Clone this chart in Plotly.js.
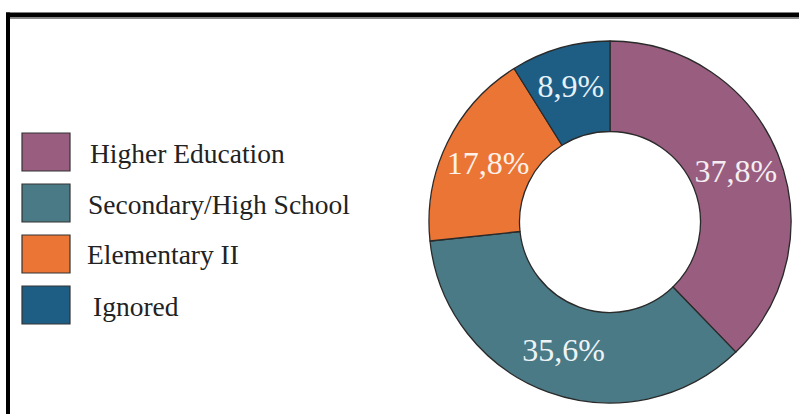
<!DOCTYPE html>
<html>
<head>
<meta charset="utf-8">
<script src="https://cdn.plot.ly/plotly-3.0.1.min.js"></script>
<style>html,body{margin:0;padding:0;background:#fff;}#chart{width:799px;height:414px;}</style>
</head>
<body>
<div id="chart"></div>
<script>
const categories = ["Higher Education", "Secondary/High School", "Elementary II", "Ignored"];
const shares = [37.8, 35.6, 17.8, 8.9];
const colors = ["#995e7f", "#4a7a86", "#eb7535", "#1f5e84"];
const textColors = ["#f4eef2", "#eef4f6", "#fdf1ea", "#e6f2fa"];

const W = 799, H = 414;
const pieText = shares.map(v => v.toFixed(1).replace('.', ',') + '%');
const SERIF = '"Liberation Serif", "Times New Roman", serif';
const legendTextX = [88, 86, 85, 91];

const cx = 610, cy = 222, R = 181;
const trace = {
  type: 'pie',
  labels: categories,
  values: shares,
  text: pieText,
  textinfo: 'text',
  textposition: 'inside',
  insidetextorientation: 'horizontal',
  sort: false,
  direction: 'clockwise',
  rotation: 0,
  hole: 0.5,
  marker: {colors: colors, line: {color: '#2a2a2a', width: 1.3}},
  textfont: {family: SERIF, size: 32, color: textColors},
  insidetextfont: {family: SERIF, size: 32, color: textColors},
  showlegend: false,
  domain: {x: [(cx - R) / W, (cx + R) / W], y: [(H - cy - R) / H, (H - cy + R) / H]},
  hoverinfo: 'label+text'
};

const shapes = [
  {type: 'rect', xref: 'paper', yref: 'paper', x0: 6 / W, x1: 1, y0: 1 - 17.5 / H, y1: 1 - 12.5 / H, fillcolor: '#000', line: {width: 0}},
  {type: 'rect', xref: 'paper', yref: 'paper', x0: 6 / W, x1: 1, y0: 1 - 19 / H, y1: 1 - 17.5 / H, fillcolor: '#888', line: {width: 0}},
  {type: 'rect', xref: 'paper', yref: 'paper', x0: 6 / W, x1: 10 / W, y0: 0, y1: 1 - 12.5 / H, fillcolor: '#000', line: {width: 0}}
];
const annotations = [];
categories.forEach((c, i) => {
  const yc = 152 + i * 51;
  shapes.push({type: 'rect', xref: 'paper', yref: 'paper',
    x0: 22 / W, x1: 70 / W, y0: 1 - (yc + 19) / H, y1: 1 - (yc - 19) / H,
    fillcolor: colors[i], line: {color: '#333', width: 1.2}});
  annotations.push({xref: 'paper', yref: 'paper', x: legendTextX[i] / W, y: 1 - (yc + 1) / H,
    xanchor: 'left', yanchor: 'middle', showarrow: false, text: c,
    font: {family: SERIF, size: 27.5, color: '#222'}});
});

const layout = {
  width: W, height: H,
  margin: {l: 0, r: 0, t: 0, b: 0},
  paper_bgcolor: '#fff',
  font: {family: SERIF},
  shapes: shapes,
  annotations: annotations,
  showlegend: false
};
Plotly.newPlot('chart', [trace], layout, {displayModeBar: false, staticPlot: true});
</script>
</body>
</html>
